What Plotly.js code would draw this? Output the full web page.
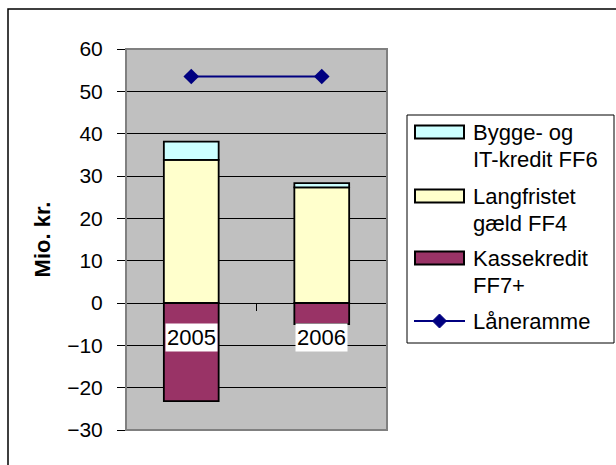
<!DOCTYPE html>
<html>
<head>
<meta charset="utf-8">
<script src="https://cdn.plot.ly/plotly-3.0.1.min.js"></script>
<style>html,body{margin:0;padding:0;background:#fff;}#chart{width:616px;height:465px;}</style>
</head>
<body>
<div id="chart"></div>
<script>
// Data
const years = ['2005', '2006'];
const byggeIT = [4.3, 1.0];          // Bygge- og IT-kredit FF6
const langfristet = [33.8, 27.3];    // Langfristet gæld FF4
const kassekredit = [-23.2, -5.0];   // Kassekredit FF7+
const laaneramme = [53.5, 53.5];     // Låneramme
const yTicks = [-30, -20, -10, 0, 10, 20, 30, 40, 50, 60];
const seriesNames = ['Bygge- og<br>IT-kredit FF6', 'Langfristet<br>gæld FF4', 'Kassekredit<br>FF7+', 'Låneramme'];
const seriesColors = ['#CCFFFF', '#FFFFCC', '#993366', '#000080'];

const FONT = '"Liberation Sans", Arial, sans-serif';
const barLine = {color: '#000000', width: 1.8};
const barWidth = 0.42;

// plot area in pixels
const W = 616, H = 465, L = 126, R = 387, T = 49, B = 430;
const px = function (x) { return (x - L) / (R - L); };
const py = function (y) { return 1 - (y - T) / (B - T); };

const traces = [
  {type: 'bar', name: seriesNames[2], x: years, y: kassekredit,
   marker: {color: seriesColors[2], line: barLine}, width: barWidth},
  {type: 'bar', name: seriesNames[1], x: years, y: langfristet,
   marker: {color: seriesColors[1], line: barLine}, width: barWidth},
  {type: 'bar', name: seriesNames[0], x: years, y: byggeIT,
   marker: {color: seriesColors[0], line: barLine}, width: barWidth},
  {type: 'scatter', mode: 'lines+markers', name: seriesNames[3], x: years, y: laaneramme,
   line: {color: seriesColors[3], width: 2}, marker: {symbol: 'diamond', size: 12, color: seriesColors[3]}}
];

// category labels sitting on the zero line with white boxes
const annotations = years.map(function (yr, i) {
  return {x: i, y: 0, xref: 'x', yref: 'y', text: yr, showarrow: false,
    yanchor: 'top', yshift: -20, bgcolor: '#FFFFFF', borderpad: 1,
    font: {family: FONT, size: 22, color: '#000'}};
});

// legend (drawn as shapes + text)
const shapes = [
  {type: 'rect', xref: 'paper', yref: 'paper', x0: 0, x1: 1, y0: 0, y1: 1,
   line: {color: '#808080', width: 2}, layer: 'above'},
  {type: 'rect', xref: 'paper', yref: 'paper', x0: px(8), x1: 2, y0: -1, y1: py(9),
   line: {color: '#000000', width: 1.5}, layer: 'above'},
  {type: 'rect', xref: 'paper', yref: 'paper', x0: px(407), x1: px(614), y0: py(343), y1: py(115),
   line: {color: '#000000', width: 1}, fillcolor: '#FFFFFF', layer: 'above'}
];
const entryY = [132, 196, 258, 321];
const lineGap = 27;
seriesNames.forEach(function (name, k) {
  const cy = entryY[k];
  if (k < 3) {
    shapes.push({type: 'rect', xref: 'paper', yref: 'paper', x0: px(415), x1: px(464),
      y0: py(cy + 6.5), y1: py(cy - 6.5), fillcolor: seriesColors[k],
      line: {color: '#000000', width: 2}, layer: 'above'});
  } else {
    shapes.push({type: 'line', xref: 'paper', yref: 'paper', x0: px(414), x1: px(465),
      y0: py(cy), y1: py(cy), line: {color: seriesColors[k], width: 2}, layer: 'above'});
    shapes.push({type: 'path', xref: 'paper', yref: 'paper', xsizemode: 'pixel', ysizemode: 'pixel',
      xanchor: px(439.5), yanchor: py(cy), path: 'M-7,0 L0,7 L7,0 L0,-7 Z',
      fillcolor: seriesColors[k], line: {color: seriesColors[k], width: 1}, layer: 'above'});
  }
  name.split('<br>').forEach(function (line, j) {
    annotations.push({xref: 'paper', yref: 'paper', x: px(471), y: py(cy + j * lineGap),
      xanchor: 'left', yanchor: 'middle', text: line, showarrow: false,
      font: {family: FONT, size: 22, color: '#000'}});
  });
});

const layout = {
  width: W, height: H,
  margin: {l: L, r: W - R, t: T, b: H - B},
  paper_bgcolor: '#FFFFFF',
  plot_bgcolor: '#C0C0C0',
  font: {family: FONT, color: '#000'},
  barmode: 'relative',
  showlegend: false,
  xaxis: {type: 'category', range: [-0.5, 1.5], anchor: 'free', position: 1/3,
    showticklabels: false, showgrid: false, showline: false, zeroline: false,
    tickmode: 'array', tickvals: [0.5], ticks: 'outside', ticklen: 7,
    tickcolor: '#000', tickwidth: 1},
  yaxis: {range: [-30, 60], tickmode: 'array', tickvals: yTicks,
    ticks: 'outside', ticklen: 8, tickcolor: '#000', tickwidth: 1,
    showgrid: true, gridcolor: '#000000', gridwidth: 1,
    zeroline: true, zerolinecolor: '#000000', zerolinewidth: 1,
    showline: false, ticklabelstandoff: 10,
    tickfont: {family: FONT, size: 21, color: '#000'},
    title: {text: '<b>Mio. kr.</b>', font: {family: FONT, size: 22, color: '#000'}, standoff: 10}},
  annotations: annotations,
  shapes: shapes
};

Plotly.newPlot('chart', traces, layout, {displayModeBar: false, staticPlot: true});
</script>
</body>
</html>
